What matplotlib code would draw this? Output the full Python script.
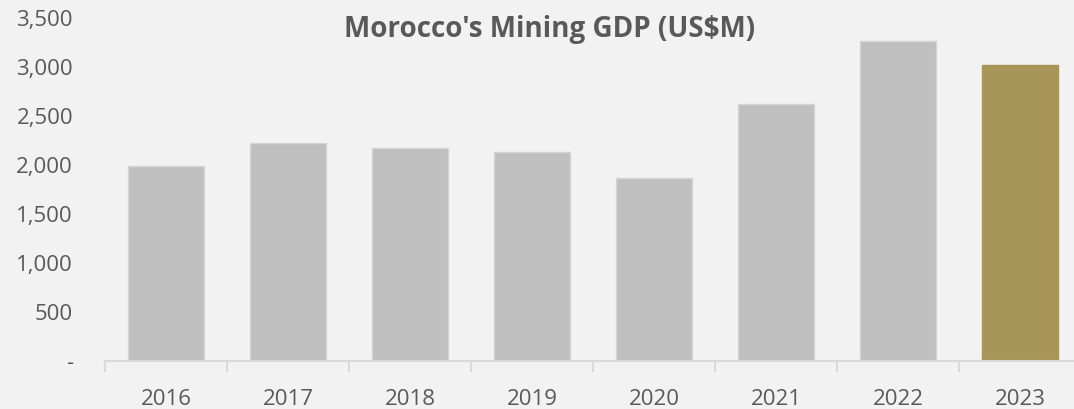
import matplotlib.pyplot as plt
from matplotlib.ticker import FixedLocator, FuncFormatter

years = ['2016', '2017', '2018', '2019', '2020', '2021', '2022', '2023']
gdp = [1990, 2225, 2175, 2135, 1865, 2620, 3265, 3020]
colors = ['#bfbfbf'] * 7 + ['#a8955a']
edges = ['#d4d4d4'] * 7 + ['#a8955a']

plt.rcParams['font.family'] = ['Open Sans', 'DejaVu Sans']

fig = plt.figure(figsize=(10.74, 4.09), dpi=100, facecolor='#f2f2f2')
W, H = 1074, 409
ax = fig.add_axes([105 / W, 48 / H, 976 / W, 343 / H], facecolor='#f2f2f2')

x = list(range(len(years)))
ax.bar(x, gdp, width=0.63, color=colors, edgecolor=edges, linewidth=1, zorder=2)

ax.set_xlim(-0.5, len(years) - 0.5)
ax.set_ylim(0, 3500)
ax.set_yticks(range(0, 3501, 500))
ax.yaxis.set_major_formatter(FuncFormatter(lambda v, p: '-' if v == 0 else f'{int(v):,}'))
ax.set_xticks(x)
ax.set_xticklabels(years)
ax.xaxis.set_minor_locator(FixedLocator([i - 0.5 for i in range(len(years) + 1)]))

for s in ['top', 'right', 'left']:
    ax.spines[s].set_visible(False)
ax.spines['bottom'].set_color('#d9d9d9')
ax.spines['bottom'].set_linewidth(1.5)

ax.tick_params(axis='y', length=0, pad=23, labelsize=16, labelcolor='#595959')
ax.tick_params(axis='x', which='major', length=0, pad=20, labelsize=16, labelcolor='#595959')
ax.tick_params(axis='x', which='minor', length=8, width=1.5, color='#d9d9d9')

fig.text(550 / W, 1 - 30 / H, "Morocco's Mining GDP (US$M)", ha='center', va='center',
         fontsize=20, fontweight='bold', color='#595959')

fig.savefig('out.png', dpi=100, facecolor=fig.get_facecolor())
